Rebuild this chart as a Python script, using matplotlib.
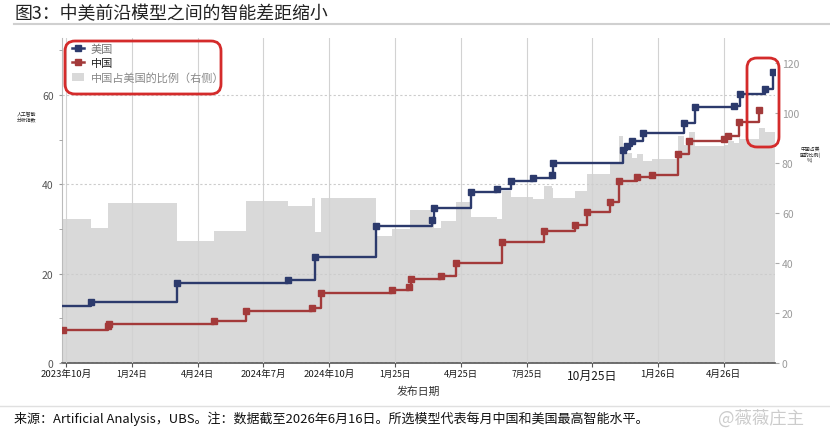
import matplotlib.pyplot as plt
from matplotlib.lines import Line2D
from matplotlib.patches import Patch, FancyBboxPatch

plt.rcParams['font.family'] = ['Noto Sans CJK SC', 'DejaVu Sans']

# x values are months since 2023-10-01 (release date of each model)
us_x = [-0.5, 1.14, 5.06, 10.12, 11.35, 14.14, 16.69, 16.78, 18.47, 19.65, 20.29, 21.30,
        22.16, 22.21, 25.40, 25.58, 25.81, 26.31, 28.18, 28.68, 30.46, 30.73, 31.87, 32.24]
us_score = [12.8, 13.6, 18.0, 18.6, 23.7, 30.6, 32.0, 34.7, 38.3, 38.9, 40.7, 41.4,
            42.1, 44.7, 47.7, 48.5, 49.7, 51.5, 53.7, 57.3, 57.6, 60.2, 61.3, 65.1]

cn_x = [-0.15, 1.90, 1.96, 6.75, 8.21, 11.22, 11.63, 14.87, 15.66, 15.72, 17.10, 17.78, 19.88,
        21.80, 23.21, 23.76, 24.81, 25.22, 26.04, 26.72, 27.91, 28.41, 30.00, 30.19, 30.69, 31.60]
cn_score = [7.4, 8.3, 8.7, 9.4, 11.6, 12.3, 15.6, 16.4, 17.0, 18.8, 19.5, 22.4, 27.1,
            29.5, 30.9, 33.8, 36.0, 40.8, 41.6, 42.1, 46.8, 49.7, 50.1, 50.8, 53.9, 56.6]

# China as % of US (right axis)
ratio_x = [-0.5, 1.14, 1.92, 5.06, 6.75, 8.21, 10.12, 11.22, 11.35, 11.63, 14.14, 14.87,
           15.69, 16.69, 16.78, 17.10, 17.78, 18.47, 19.65, 19.88, 20.29, 21.30, 21.80, 22.16,
           22.21, 23.21, 23.76, 24.81, 25.22, 25.40, 25.58, 25.81, 26.04, 26.31, 26.72, 27.91,
           28.18, 28.41, 28.68, 30.00, 30.19, 30.46, 30.69, 30.73, 31.60, 31.87, 32.33]
ratio_pct = [57.6, 54.0, 64.0, 48.8, 52.8, 64.8, 62.8, 66.2, 52.4, 66.0, 51.0, 53.6,
             61.4, 58.8, 54.2, 57.0, 64.5, 58.5, 57.6, 69.0, 66.6, 65.5, 71.0, 70.0,
             66.0, 69.0, 75.6, 80.5, 91.0, 85.5, 84.0, 82.0, 83.7, 80.8, 81.7, 91.0,
             87.2, 92.6, 86.7, 87.4, 88.7, 88.2, 93.6, 89.5, 94.0, 92.3, 92.3]

tick_pos = [0, 3, 6, 9, 12, 15, 18, 21, 24, 27, 30]
tick_labels = ['2023年10月', '1月24日', '4月24日', '2024年7月', '2024年10月', '1月25日',
               '4月25日', '7月25日', '10月25日', '1月26日', '4月26日']
tick_sizes = [6.9, 6.0, 6.5, 6.8, 6.9, 6.2, 6.7, 6.0, 8.6, 6.9, 6.9]

us_color = '#2c3a6c'
cn_color = '#a33a3a'
gray = '#d9d9d9'

fig = plt.figure(figsize=(8.3, 4.35), dpi=100)
ax = fig.add_axes([62/830, 1-364/435, 713/830, (364-39.3)/435])
ax2 = ax.twinx()
ax.set_zorder(ax2.get_zorder() + 1)
ax.patch.set_visible(False)

# gray area: ratio
ax2.fill_between(ratio_x, ratio_pct, step='post', color=gray, lw=0)
ax2.set_ylim(0, 130)
ax2.set_yticks(range(0, 121, 20))
ax2.tick_params(axis='y', length=3, color='#aaaaaa', labelcolor='#9a9a9a', labelsize=7.5, pad=2)
for s in ax2.spines.values():
    s.set_visible(False)

# step lines
ax.plot(us_x, us_score, drawstyle='steps-post', color=us_color, lw=1.7,
        marker='s', ms=4.5, zorder=4)
ax.plot(cn_x, cn_score, drawstyle='steps-post', color=cn_color, lw=1.7,
        marker='s', ms=4.5, zorder=4)

ax.set_xlim(-0.18, 32.33)
ax.set_ylim(0, 72.7)
ax.set_yticks([0, 20, 40, 60])
ax.set_yticks([10, 30, 50, 70], minor=True)
ax.tick_params(axis='y', which='both', length=2, color='#999999', labelcolor='#555555',
               labelsize=7.5, pad=4)
ax.set_xticks(tick_pos)
ax.set_xticklabels(tick_labels)
for lab, sz in zip(ax.get_xticklabels(), tick_sizes):
    lab.set_fontsize(sz)
    lab.set_color('#1a1a1a')
ax.tick_params(axis='x', length=3, color='#555555', pad=1)

ax.grid(axis='x', color='#d2d2d2', lw=0.8)
ax.grid(axis='y', color='#cccccc', lw=0.8, linestyle=(0, (2, 2)))
ax.set_axisbelow(False)
for s in ['top', 'right']:
    ax.spines[s].set_visible(False)
ax.spines['bottom'].set_color('#555555')
ax.spines['bottom'].set_linewidth(1.2)
ax.spines['left'].set_color('#bbbbbb')
ax.spines['left'].set_linewidth(0.8)

ax.set_xlabel('发布日期', fontsize=7.8, color='#333333', labelpad=3)

# legend
handles = [Line2D([], [], color=us_color, marker='s', ms=4, lw=1.8),
           Line2D([], [], color=cn_color, marker='s', ms=4, lw=1.8),
           Patch(facecolor=gray, edgecolor='none')]
leg = ax.legend(handles, ['美国', '中国', '中国占美国的比例（右侧）'], loc='upper left',
                bbox_to_anchor=(64/830, 1-37/435), bbox_transform=fig.transFigure,
                frameon=False, fontsize=8.0, borderpad=0.2, handlelength=1.1,
                handletextpad=0.6, labelspacing=0.35)
for t, c in zip(leg.get_texts(), ['#777777', '#222222', '#888888']):
    t.set_color(c)

# tiny axis titles
fig.text(27/830, 1-118/435, '人工智能\n分析指数', fontsize=3.5, ha='center', va='center',
         linespacing=1.1, color='#222222')
fig.text(810/830, 1-155/435, '中国占美\n国的比例(\n%)', fontsize=3.5, ha='center', va='center',
         linespacing=1.1, color='#222222')

# red highlight boxes
for (x0, y0, x1, y1) in [(65, 42, 221, 95), (747, 59, 779, 148)]:
    box = FancyBboxPatch((x0/100, (435-y1)/100), (x1-x0)/100, (y1-y0)/100,
                         boxstyle='round,pad=0,rounding_size=0.1',
                         transform=fig.dpi_scale_trans, fill=False,
                         edgecolor='#d42b2b', lw=2)
    fig.patches.append(box)

# title, footer
fig.text(14/830, 1-14/435, '图3：中美前沿模型之间的智能差距缩小', fontsize=12.9,
         color='#222222', ha='left', va='center')
fig.add_artist(Line2D([14/830, 1], [1-25/435, 1-25/435], color='#d0d0d0', lw=1.5))
fig.add_artist(Line2D([0, 1], [1-407/435, 1-407/435], color='#e0e0e0', lw=1))
fig.text(14/830, 1-419/435,
         '来源：Artificial Analysis，UBS。注：数据截至2026年6月16日。所选模型代表每月中国和美国最高智能水平。',
         fontsize=9.4, color='#111111', ha='left', va='center')
fig.text(718/830, 1-419/435, '@薇薇庄主', fontsize=12.5, color='#cccccc', ha='left', va='center')

fig.savefig('out.png', dpi=100)
